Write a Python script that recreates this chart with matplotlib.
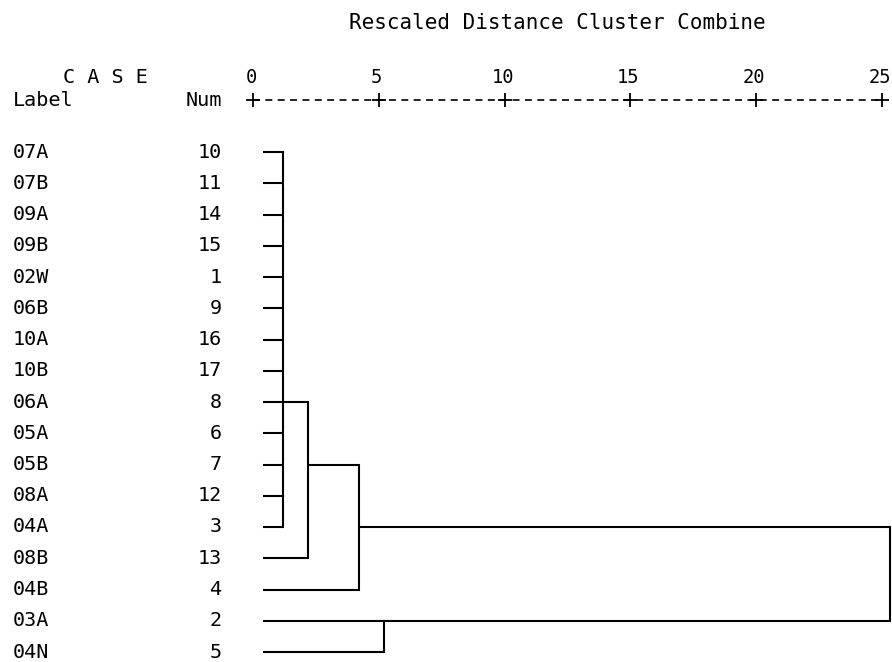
import matplotlib
matplotlib.use('Agg')
import matplotlib.pyplot as plt

# case labels and numbers, in dendrogram order (top to bottom)
labels = ['07A', '07B', '09A', '09B', '02W', '06B', '10A', '10B', '06A',
          '05A', '05B', '08A', '04A', '08B', '04B', '03A', '04N']
nums = [10, 11, 14, 15, 1, 9, 16, 17, 8, 6, 7, 12, 3, 13, 4, 2, 5]

# rescaled distance axis
ticks = [0, 5, 10, 15, 20, 25]
leaf_start = 0.4

# merges: height, first/last row joined by the vertical, row leaving to the parent, parent merge
merge_height = [1.2, 2.2, 4.2, 5.2, 25.3]
merge_span = [(0, 12), (8, 13), (10, 14), (15, 16), (12, 15)]
merge_out_row = [8, 10, 12, 15, None]
merge_parent = [1, 2, 4, 4, None]
leaf_parent = [0] * 13 + [1, 2, 3, 3]

plt.rcParams['lines.scale_dashes'] = False
font = 'DejaVu Sans Mono'

fig = plt.figure(figsize=(8.92, 6.62), dpi=100)
ax = fig.add_axes([0, 0, 1, 1])
ax.set_xlim(-253 / 25.16, (892 - 253) / 25.16)
ax.set_ylim(510 / 31.25, -152 / 31.25)
ax.axis('off')

lw = 1.5
# leaves
for i, p in enumerate(leaf_parent):
    ax.plot([leaf_start, merge_height[p]], [i, i], color='black', lw=lw,
            solid_capstyle='butt')
# merges
for k, h in enumerate(merge_height):
    a, b = merge_span[k]
    ax.plot([h, h], [a, b], color='black', lw=lw, solid_capstyle='projecting')
    if merge_parent[k] is not None:
        r = merge_out_row[k]
        ax.plot([h, merge_height[merge_parent[k]]], [r, r], color='black', lw=lw,
                solid_capstyle='butt')

# text labels
for i, (lab, n) in enumerate(zip(labels, nums)):
    ax.text(-9.54, i, lab, family=font, fontsize=14.5, va='center', ha='left')
    ax.text(-1.23, i, str(n), family=font, fontsize=14.5, va='center', ha='right')

# header
ax.text(12.1, -4.13, 'Rescaled Distance Cluster Combine', family=font,
        fontsize=15, ha='center', va='center')
ax.text(-7.55, -2.40, 'C A S E', family=font, fontsize=14.5, ha='left', va='center')
ax.text(-9.54, -1.66, 'Label', family=font, fontsize=14.5, ha='left', va='center')
ax.text(-1.23, -1.66, 'Num', family=font, fontsize=14.5, ha='right', va='center')

# scale line
ax.plot([ticks[0], ticks[-1]], [-1.66, -1.66], color='black', lw=1.2,
        dashes=(5, 3.9))
ax.plot(ticks, [-1.66] * len(ticks), ls='none', marker='+', ms=10, mew=1.3,
        color='black')
for t in ticks:
    ax.annotate(str(t), (t, -2.40), xytext=(-1.5, 0), textcoords='offset points',
                family=font, fontsize=13.5, ha='center', va='center')

fig.savefig('out.png', dpi=100, facecolor='white')
